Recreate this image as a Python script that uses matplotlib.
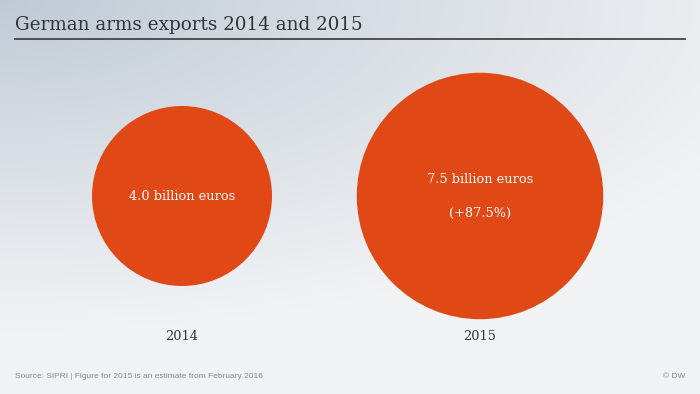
import numpy as np
import matplotlib
matplotlib.use("Agg")
import matplotlib.pyplot as plt
from matplotlib.colors import to_rgb

title = "German arms exports 2014 and 2015"
years = ["2014", "2015"]
values = [4.0, 7.5]  # billion euros
bubble_labels = ["4.0 billion euros", "7.5 billion euros\n\n(+87.5%)"]
source = "Source: SIPRI | Figure for 2015 is an estimate from February 2016"
credit = "© DW"

W, H = 700, 394
fig = plt.figure(figsize=(W / 100, H / 100), dpi=100)
ax = fig.add_axes([0, 0, 1, 1])
ax.set_xlim(0, W)
ax.set_ylim(H, 0)
ax.axis("off")

# background gradient
yy, xx = np.mgrid[0:H, 0:W]
d = np.sqrt((xx / 820.0) ** 2 + (yy / 330.0) ** 2)
t = np.clip(d, 0, 1) ** 0.9
c0 = np.array(to_rgb("#bfcad5"))
c1 = np.array(to_rgb("#f1f2f4"))
img = c0[None, None, :] * (1 - t[..., None]) + c1[None, None, :] * t[..., None]
ax.imshow(img, extent=[0, W, H, 0], zorder=0, aspect="auto")

serif = ["DejaVu Serif"]

ax.text(15, 30, title, fontsize=13.2, family=serif, color="#333333", zorder=3)
ax.plot([15, 685], [38.5, 38.5], color="#444444", lw=1.3, zorder=3)

# bubbles: area proportional to value
xs = [182, 480]
cy = 196
r_per_sqrt = 90 / np.sqrt(values[0])  # pixels
sizes = [(2 * r_per_sqrt * np.sqrt(v) * 0.72) ** 2 for v in values]
ax.scatter(xs, [cy] * len(xs), s=sizes, color="#e04816", edgecolors="none", zorder=2)

for x, lab in zip(xs, bubble_labels):
    ax.text(x, cy, lab, fontsize=9.3, family=serif, color="white",
            ha="center", va="center", zorder=4, linespacing=1.4)

for x, v, yr in zip(xs, values, years):
    ax.text(x, 337, yr, fontsize=9.3, family=serif, color="#333333",
            ha="center", va="center", zorder=3)

ax.text(15, 376, source, fontsize=6.0, family=["Liberation Sans", "DejaVu Sans"],
        color="#888888", va="center", zorder=3)
ax.text(685, 376, credit, fontsize=6.0, family=["Liberation Sans", "DejaVu Sans"],
        color="#888888", va="center", ha="right", zorder=3)

fig.savefig("out.png", dpi=100)
